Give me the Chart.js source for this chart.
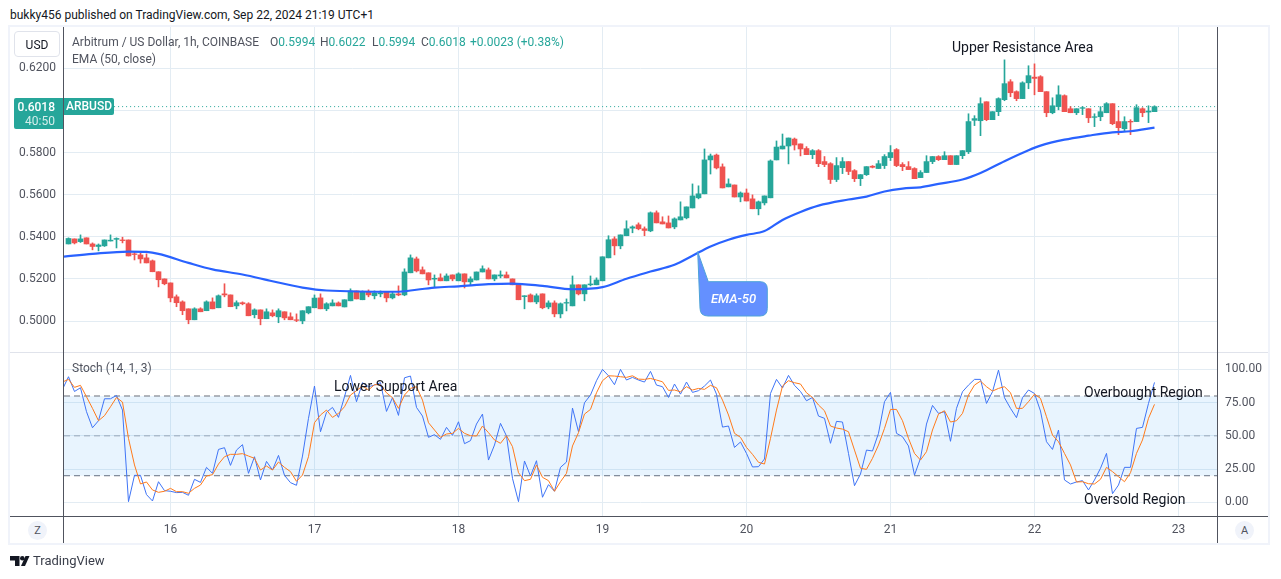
<!DOCTYPE html>
<html>
<head>
<meta charset="utf-8">
<title>ARBUSD 1h</title>
<script src="https://cdn.jsdelivr.net/npm/chart.js@4/dist/chart.umd.min.js"></script>
<style>
    html, body { margin: 0; padding: 0; background: #fff; width: 1281px; height: 579px; overflow: hidden; }
    body { font-family: Roboto, "Open Sans", sans-serif; color: #131722; }
    canvas { position: absolute; }
    .t { position: absolute; white-space: nowrap; font-size: 13px; line-height: 16px; }
    .note { font-size: 14px; }
    .legend { font-size: 12px; color: #50535e; }
    .legend b { font-weight: 400; color: #26a69a; }
    .line { position: absolute; background: #50535e; }
    .frame { position: absolute; left: 10px; top: 27px; width: 1258px; height: 516px; border: 2px solid #f0f3fa; box-sizing: content-box; margin: -2px 0 0 -2px; }
    .circle { position: absolute; width: 19px; height: 19px; border-radius: 50%; background: #f0f3fa; color: #50535e; font-size: 11px; line-height: 19px; text-align: center; }
</style>
</head>
<body>
<canvas id="price-chart" width="1261" height="325" style="left:10px;top:27px;width:1261px;height:325px"></canvas>
<canvas id="stoch-chart" width="1261" height="191" style="left:10px;top:352px;width:1261px;height:191px"></canvas>

<div class="frame"></div>
<div class="line" style="left:10px;top:352px;width:1258px;height:1px;background:#e0e3eb"></div>
<div class="line" style="left:63px;top:27px;width:1px;height:516px"></div>
<div class="line" style="left:1217px;top:27px;width:1px;height:516px"></div>
<div class="line" style="left:10px;top:516px;width:1258px;height:1px"></div>

<div class="t" style="left:10px;top:7px;font-size:12px">bukky456 published on TradingView.com, Sep 22, 2024 21:19 UTC+1</div>

<div class="t" style="left:14px;top:31px;width:44px;height:24px;line-height:26px;font-size:12px;text-align:center;border:1px solid #e0e3eb;border-radius:4px">USD</div>
<div class="t legend" style="left:72px;top:34px">Arbitrum / US Dollar, 1h, COINBASE</div>
<div class="t legend" style="left:270px;top:34px">O<b>0.5994</b></div>
<div class="t legend" style="left:320px;top:34px">H<b>0.6022</b></div>
<div class="t legend" style="left:372px;top:34px">L<b>0.5994</b></div>
<div class="t legend" style="left:421px;top:34px">C<b>0.6018</b></div>
<div class="t legend" style="left:470px;top:34px"><b>+0.0023 (+0.38%)</b></div>
<div class="t legend" style="left:72px;top:51px">EMA (50, close)</div>
<div class="t legend" style="left:72px;top:360px">Stoch (14, 1, 3)</div>

<div class="t" style="left:14px;top:98px;width:49px;height:31px;background:#26a69a;border-radius:2px 0 0 2px"></div>
<div class="t" style="left:14px;top:99px;width:41px;text-align:right;font-size:12px;font-weight:500;color:#fff">0.6018</div>
<div class="t" style="left:14px;top:113px;width:41px;text-align:right;font-size:12px;color:#d4eeeb">40:50</div>
<div class="t" style="left:64px;top:98px;width:50px;height:17px;line-height:17px;background:#26a69a;border-radius:0 2px 2px 0;font-size:12px;font-weight:500;color:#fff;text-align:center">ARBUSD</div>

<div class="t note" style="left:952px;top:39px">Upper Resistance Area</div>
<div class="t note" style="left:334px;top:378px">Lower Support Area</div>
<div class="t note" style="left:1084px;top:384px">Overbought Region</div>
<div class="t note" style="left:1084px;top:491px">Oversold Region</div>

<svg style="position:absolute;left:690px;top:245px" width="85" height="78">
    <path d="M7.7 6.7 L18.3 36.7 L70 36.7 Q77.3 36.7 77.3 44 L77.3 63.5 Q77.3 71 70 71 L18 71 Q10 71 10 63 Z" fill="#6490ff" stroke="#4ea3d8" stroke-width="1"/>
</svg>
<div class="t" style="left:700px;top:291px;width:67px;text-align:center;font-style:italic;font-weight:500;color:#fff">EMA-50</div>

<div class="circle" style="left:28px;top:521px">Z</div>
<div class="circle" style="left:1235px;top:521px">A</div>

<svg style="position:absolute;left:10px;top:556px" width="20" height="11">
    <path d="M0 0 H9.5 V10 H5 V4.5 H0 Z" fill="#131722"/>
    <circle cx="12.3" cy="2.3" r="2.3" fill="#131722"/>
    <path d="M15.5 0 H19.5 L15 10 H11 Z" fill="#131722"/>
</svg>
<div class="t" style="left:33px;top:553px;color:#3a3e4a">TradingView</div>

<script>
    // K线 (1h)，序号 0 = 9月15日 07:00
    const opens = [
        .5366,.5390,.5377,.5395,.5366,.5354,.5357,.5380,.5388,.5385,
        .5385,.5319,.5314,.5300,.5286,.5234,.5200,.5181,.5115,.5091,
        .5058,.5006,.5058,.5049,.5091,.5063,.5129,.5124,.5072,.5087,
        .5082,.5030,.5053,.5011,.5039,.5020,.5044,.5020,.5006,.5001,
        .5039,.5063,.5110,.5058,.5072,.5086,.5067,.5096,.5143,.5101,
        .5139,.5120,.5129,.5139,.5110,.5129,.5124,.5229,.5295,.5243,
        .5229,.5199,.5205,.5191,.5219,.5191,.5224,.5186,.5195,.5233,
        .5243,.5200,.5214,.5219,.5200,.5176,.5116,.5124,.5091,.5129,
        .5067,.5086,.5034,.5085,.5072,.5172,.5129,.5172,.5172,.5191,
        .5300,.5390,.5357,.5405,.5441,.5457,.5438,.5428,.5514,.5471,
        .5466,.5447,.5480,.5490,.5537,.5585,.5604,.5765,.5788,.5732,
        .5637,.5646,.5589,.5608,.5580,.5533,.5561,.5585,.5765,.5817,
        .5831,.5864,.5841,.5819,.5790,.5809,.5757,.5747,.5672,.5728,
        .5757,.5714,.5676,.5695,.5735,.5724,.5738,.5776,.5814,.5743,
        .5733,.5724,.5681,.5705,.5757,.5781,.5766,.5785,.5743,.5785,
        .5804,.5953,.5951,.6041,.5956,.5994,.6051,.6136,.6089,.6056,
        .6131,.6158,.6160,.6089,.5989,.6018,.6070,.6008,.5989,.6010,
        .6008,.5967,.5970,.5989,.6032,.5947,.5913,.5948,.5947,.6008,
        .5992,.5994
    ];
    const closes = [
        .5392,.5371,.5390,.5366,.5354,.5361,.5385,.5384,.5392,.5382,
        .5309,.5316,.5295,.5276,.5234,.5196,.5177,.5110,.5087,.5049,
        .5006,.5058,.5044,.5091,.5058,.5120,.5124,.5068,.5087,.5082,
        .5025,.5053,.5011,.5044,.5025,.5049,.5015,.5006,.5003,.5049,
        .5068,.5109,.5058,.5082,.5086,.5072,.5101,.5143,.5105,.5139,
        .5124,.5134,.5134,.5110,.5129,.5124,.5233,.5300,.5238,.5224,
        .5195,.5203,.5191,.5214,.5200,.5224,.5186,.5200,.5233,.5248,
        .5200,.5219,.5219,.5205,.5172,.5101,.5120,.5091,.5120,.5063,
        .5086,.5034,.5082,.5088,.5172,.5129,.5172,.5176,.5195,.5305,
        .5386,.5357,.5409,.5438,.5447,.5438,.5430,.5514,.5466,.5461,
        .5442,.5485,.5495,.5542,.5594,.5604,.5765,.5784,.5727,.5632,
        .5651,.5589,.5608,.5570,.5533,.5566,.5594,.5760,.5826,.5831,
        .5869,.5836,.5817,.5790,.5809,.5747,.5743,.5672,.5738,.5757,
        .5710,.5676,.5695,.5733,.5730,.5747,.5781,.5800,.5738,.5733,
        .5719,.5676,.5705,.5757,.5781,.5766,.5785,.5743,.5785,.5809,
        .5947,.5961,.6032,.5956,.5994,.6056,.6127,.6084,.6056,.6131,
        .6165,.6152,.6089,.5989,.6022,.6074,.5994,.5989,.6008,.6013,
        .5965,.5970,.5994,.6032,.5937,.5918,.5947,.5945,.6013,.5989,
        .5997,.6018
    ];
    const highs = [
        .5395,.5390,.5409,.5395,.5371,.5366,.5385,.5409,.5395,.5398,
        .5385,.5331,.5322,.5319,.5290,.5234,.5200,.5181,.5124,.5096,
        .5058,.5063,.5063,.5096,.5110,.5124,.5177,.5124,.5096,.5091,
        .5087,.5058,.5053,.5058,.5053,.5058,.5044,.5039,.5034,.5049,
        .5068,.5124,.5129,.5087,.5101,.5091,.5101,.5153,.5143,.5143,
        .5148,.5143,.5143,.5139,.5139,.5167,.5248,.5314,.5304,.5257,
        .5229,.5219,.5224,.5224,.5219,.5229,.5224,.5210,.5233,.5262,
        .5252,.5219,.5238,.5233,.5200,.5176,.5120,.5129,.5129,.5129,
        .5096,.5096,.5086,.5105,.5214,.5172,.5172,.5214,.5205,.5305,
        .5405,.5400,.5409,.5476,.5452,.5466,.5447,.5518,.5523,.5495,
        .5499,.5490,.5566,.5542,.5651,.5642,.5817,.5793,.5793,.5746,
        .5675,.5646,.5613,.5627,.5599,.5570,.5594,.5765,.5855,.5888,
        .5869,.5869,.5841,.5828,.5814,.5814,.5781,.5752,.5776,.5776,
        .5757,.5719,.5695,.5733,.5738,.5762,.5790,.5833,.5819,.5752,
        .5757,.5728,.5714,.5785,.5781,.5785,.5804,.5785,.5785,.5809,
        .5984,.5975,.6060,.6041,.5994,.6060,.6240,.6146,.6093,.6136,
        .6212,.6221,.6165,.6089,.6060,.6117,.6074,.6018,.6008,.6018,
        .6008,.5984,.6018,.6037,.6032,.5999,.5970,.5956,.6027,.6013,
        .6022,.6022
    ];
    const lows = [
        .5366,.5366,.5373,.5366,.5338,.5333,.5354,.5380,.5347,.5371,
        .5309,.5290,.5275,.5276,.5234,.5162,.5172,.5091,.5068,.5030,
        .4987,.5006,.5044,.5049,.5058,.5063,.5115,.5068,.5058,.5077,
        .5025,.5015,.4982,.5011,.5020,.4992,.5006,.5006,.4997,.4987,
        .5034,.5063,.5058,.5049,.5072,.5072,.5067,.5096,.5105,.5101,
        .5115,.5105,.5115,.5091,.5105,.5120,.5120,.5229,.5233,.5224,
        .5172,.5162,.5191,.5191,.5191,.5191,.5157,.5172,.5195,.5233,
        .5200,.5191,.5205,.5205,.5172,.5101,.5058,.5091,.5082,.5058,
        .5058,.5020,.5015,.5048,.5072,.5124,.5096,.5167,.5172,.5191,
        .5300,.5314,.5343,.5405,.5419,.5433,.5405,.5424,.5466,.5461,
        .5442,.5438,.5480,.5485,.5537,.5580,.5604,.5698,.5722,.5632,
        .5637,.5589,.5566,.5570,.5533,.5504,.5551,.5585,.5765,.5817,
        .5746,.5812,.5784,.5790,.5771,.5733,.5733,.5653,.5662,.5700,
        .5695,.5662,.5643,.5691,.5727,.5724,.5724,.5762,.5733,.5714,
        .5719,.5676,.5681,.5705,.5747,.5762,.5766,.5743,.5743,.5771,
        .5795,.5928,.5880,.5951,.5956,.5975,.6046,.6065,.6046,.6056,
        .6103,.6074,.6089,.5970,.5984,.6003,.5994,.5989,.5980,.5980,
        .5942,.5923,.5951,.5989,.5932,.5885,.5904,.5885,.5947,.5970,
        .5942,.5994
    ];

    // EMA 50，读取的取样点
    const emaHours = [-0.75,4,10,13,15,20,24,29,34,39,43,55,57,61,65,70,74,79,84,89,93,97,101,104,107,110,113,116,119,122,125,130,133,136,139,142,145,149,152,156,160,162,166,170,174,177,181];
    const emaValues = [.5306,.5319,.5330,.5328,.5319,.5276,.5245,.5221,.5189,.5159,.5145,.5139,.5145,.5159,.5165,.5175,.5178,.5167,.5151,.5161,.5201,.5235,.5267,.5310,.5354,.5386,.5409,.5427,.5480,.5518,.5548,.5577,.5591,.5615,.5629,.5635,.5651,.5672,.5703,.5759,.5811,.5833,.5861,.5880,.5896,.5901,.5918];

    // Stoch %K / %D，从序号 -1 开始
    const stochK = [
        85.0,94.5,83.4,86.2,68.2,56.1,61.4,77.9,77.9,80.4,
        69.4,0.5,20.3,20.3,5.8,1.0,15.5,8.8,8.3,7.3,
        7.5,5.3,17.3,15.0,26.3,21.8,39.8,41.1,27.8,39.3,
        43.4,21.8,34.3,16.8,30.8,24.3,35.3,20.3,14.8,12.8,
        34.8,63.2,87.5,53.1,67.7,71.4,63.9,79.4,95.5,75.7,
        90.0,87.0,88.2,90.0,68.4,78.7,65.4,93.7,95.0,71.4,
        64.9,48.9,50.9,47.4,56.4,50.4,60.6,44.1,46.4,58.9,
        66.4,31.8,43.1,59.4,49.9,18.0,0.5,31.1,19.8,31.3,
        3.8,13.3,8.3,26.3,30.3,70.9,53.1,74.9,80.7,91.5,
        100,95.2,88.5,100,92.0,94.0,92.0,90.5,98.5,88.2,
        87.0,78.9,89.0,81.4,90.5,82.7,84.0,87.5,92.0,81.4,
        56.6,57.4,41.3,45.4,36.8,26.6,26.8,32.6,81.9,92.5,
        86.0,95.5,88.0,83.4,76.4,78.9,64.9,63.2,44.4,60.9,
        60.4,36.8,12.5,21.3,39.3,38.6,51.9,75.7,82.7,51.9,
        49.4,42.4,20.5,33.1,58.9,72.9,66.9,68.2,45.9,70.7,
        83.2,88.2,92.5,92.5,74.4,83.2,99.5,78.7,70.7,63.7,
        78.7,84.5,81.9,68.7,45.6,39.8,54.4,16.8,13.8,15.3,
        16.3,9.3,16.8,25.6,36.8,6.5,13.0,26.3,26.3,55.6,
        56.4,74.4,90.2
    ];
    const stochD = [
        90.5,92.5,86.5,88.0,79.4,70.7,61.4,65.2,71.9,78.9,
        75.4,48.1,28.1,13.8,15.3,9.3,7.5,8.3,10.5,8.0,
        8.0,6.8,10.5,13.0,19.8,20.8,28.8,34.3,36.1,36.1,
        36.6,34.8,33.1,24.3,27.3,24.3,30.3,26.3,23.1,15.8,
        20.5,34.3,59.9,65.7,69.4,63.9,66.9,71.9,80.7,84.0,
        87.5,84.5,88.5,88.5,82.4,78.7,70.7,80.7,85.7,87.0,
        76.9,59.9,54.4,48.9,51.4,51.9,55.6,51.9,50.1,49.9,
        57.4,52.4,46.9,44.4,50.1,41.9,22.3,16.3,17.3,28.1,
        18.8,16.3,8.3,15.5,21.8,42.4,52.4,66.4,69.9,82.4,
        91.5,95.2,95.0,94.5,94.0,95.2,92.7,92.5,93.2,92.0,
        90.7,84.2,84.5,83.2,87.0,84.5,85.7,85.0,88.0,86.2,
        76.9,65.7,51.9,48.9,41.3,36.1,30.1,28.8,48.1,69.4,
        87.5,91.5,90.0,89.0,82.4,78.9,73.2,68.9,57.4,55.9,
        55.1,53.1,39.3,25.6,24.8,33.1,43.1,55.6,69.9,69.9,
        61.4,48.1,36.8,31.8,38.1,54.4,66.4,68.9,60.4,61.4,
        66.9,80.7,88.2,91.2,87.0,83.7,85.7,87.0,82.4,70.7,
        70.7,75.7,81.4,78.2,64.4,50.6,45.6,36.8,28.1,15.3,
        15.5,14.0,13.8,17.3,26.3,23.1,19.3,15.5,22.3,36.8,
        46.9,63.2,73.7
    ];

    const priceTicks = [.62,.60,.58,.56,.54,.52,.50];
    const stochTicks = [100,75,50,25,0];
    const stochBand = [80,20];
    const stochMid = 50;
    const dayHours = [17,41,65,89,113,137,161,185];
    const dayLabels = ['16','17','18','19','20','21','22','23'];

    const UP = '#26a69a';
    const DOWN = '#ef5350';
    const GRID = '#e3ecf3';
    const TEXT = '#50535e';
    const X_MIN = -0.75;
    const X_MAX = 191.417;
    const AXIS_W = 54;

    const candleColor = ctx => closes[ctx.dataIndex] >= opens[ctx.dataIndex] ? UP : DOWN;
    const flatLine = (y, from = X_MIN) => [{ x: from, y }, { x: X_MAX, y }];

    // 去掉坐标轴为刻度文字预留的内边距，让绘图区贴满面板
    function noPadding(scale) {
        scale.paddingTop = scale.paddingBottom = scale.paddingLeft = scale.paddingRight = 0;
        scale.getPadding = () => ({ left: 0, top: 0, right: 0, bottom: 0 });
        if (scale._margins) {
            scale._margins.left = scale._margins.top = scale._margins.right = scale._margins.bottom = 0;
        }
    }

    function xAxis(showLabels) {
        return {
            type: 'linear',
            offset: false,
            min: X_MIN,
            max: X_MAX,
            afterBuildTicks: s => { s.ticks = dayHours.map(v => ({ value: v })); },
            afterFit: s => { s.height = showLabels ? 27 : 0; noPadding(s); },
            grid: { color: GRID, drawTicks: false, offset: false },
            border: { display: false },
            ticks: {
                display: showLabels,
                autoSkip: false,
                maxRotation: 0,
                padding: 7,
                color: TEXT,
                font: { family: 'Roboto', size: 12 },
                callback: v => dayLabels[dayHours.indexOf(v)]
            }
        };
    }

    function yAxis(position, min, max, tickValues, digits) {
        return {
            position,
            min,
            max,
            afterBuildTicks: s => { s.ticks = tickValues.map(v => ({ value: v })); },
            afterFit: s => { s.width = AXIS_W; noPadding(s); },
            grid: { color: GRID, drawTicks: false },
            border: { display: false },
            ticks: {
                padding: 8,
                color: TEXT,
                font: { family: 'Roboto', size: 12 },
                callback: v => v.toFixed(digits)
            }
        };
    }

    const baseOptions = {
        responsive: false,
        animation: false,
        events: [],
        plugins: { legend: { display: false }, tooltip: { enabled: false } }
    };

    new Chart(document.getElementById('price-chart'), {
        type: 'bar',
        data: {
            datasets: [
                {
                    type: 'line',
                    label: 'EMA 50',
                    data: emaHours.map((x, i) => ({ x, y: emaValues[i] })),
                    borderColor: '#2962ff',
                    borderWidth: 2.2,
                    pointRadius: 0,
                    cubicInterpolationMode: 'monotone',
                    order: 0
                },
                {
                    label: 'body',
                    data: opens.map((o, i) => ({ x: i, y: [o, closes[i]] })),
                    backgroundColor: candleColor,
                    barThickness: 5,
                    grouped: false,
                    order: 1
                },
                {
                    label: 'wick',
                    data: lows.map((l, i) => ({ x: i, y: [l, highs[i]] })),
                    backgroundColor: candleColor,
                    barThickness: 1,
                    grouped: false,
                    order: 2
                },
                {
                    type: 'line',
                    label: 'last',
                    data: flatLine(closes[closes.length - 1], 7.6),
                    borderColor: UP,
                    borderWidth: 1,
                    borderDash: [1, 3],
                    pointRadius: 0,
                    order: 3
                }
            ]
        },
        options: {
            ...baseOptions,
            layout: { autoPadding: false, padding: { right: AXIS_W } },
            scales: {
                x: xAxis(false),
                y: yAxis('left', 0.4853, 0.6396, priceTicks, 4)
            }
        }
    });

    new Chart(document.getElementById('stoch-chart'), {
        type: 'line',
        data: {
            datasets: [
                {
                    label: '%D',
                    data: stochD.map((y, i) => ({ x: i - 1, y })),
                    borderColor: '#ff7a1a',
                    borderWidth: 1,
                    pointRadius: 0,
                    order: 0
                },
                {
                    label: '%K',
                    data: stochK.map((y, i) => ({ x: i - 1, y })),
                    borderColor: '#3f74f6',
                    borderWidth: 1,
                    pointRadius: 0,
                    order: 1
                },
                {
                    label: 'upper',
                    data: flatLine(stochBand[0]),
                    borderColor: '#6c6f7a',
                    borderWidth: 1,
                    borderDash: [6, 4],
                    pointRadius: 0,
                    backgroundColor: 'rgba(33,150,243,0.1)',
                    fill: { value: stochBand[1] },
                    order: 2
                },
                {
                    label: 'mid',
                    data: flatLine(stochMid),
                    borderColor: 'rgba(120,123,134,0.6)',
                    borderWidth: 1,
                    borderDash: [6, 4],
                    pointRadius: 0,
                    order: 2
                },
                {
                    label: 'lower',
                    data: flatLine(stochBand[1]),
                    borderColor: '#6c6f7a',
                    borderWidth: 1,
                    borderDash: [6, 4],
                    pointRadius: 0,
                    order: 2
                }
            ]
        },
        options: {
            ...baseOptions,
            layout: { autoPadding: false, padding: { left: AXIS_W } },
            scales: {
                x: xAxis(true),
                y: yAxis('right', -10.3, 113.1, stochTicks, 2)
            }
        }
    });
</script>
</body>
</html>
